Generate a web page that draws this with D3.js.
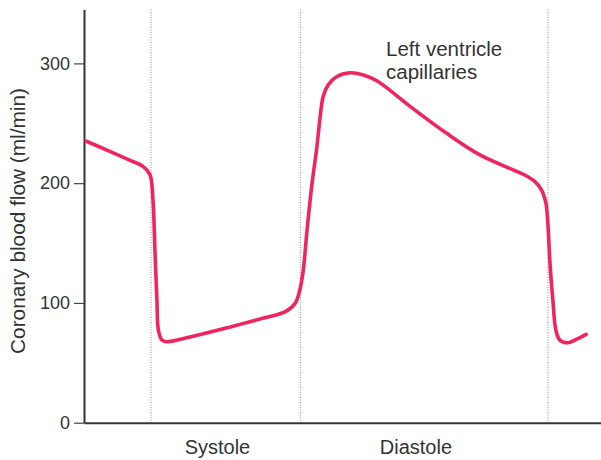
<!DOCTYPE html>
<html>
<head>
<meta charset="utf-8">
<script src="https://cdn.jsdelivr.net/npm/d3@7"></script>
<style>
  html, body { margin: 0; padding: 0; background: #fff; }
  svg { display: block; }
  text { font-family: "Liberation Sans", Arial, Helvetica, sans-serif; fill: #333; }
</style>
</head>
<body>
<svg id="chart" width="601" height="460"></svg>
<script>
// ---- data (time in ms, flow in ml/min) ----
const timeMs = [5, 93, 119, 133, 139, 143, 147, 150, 157, 167, 228, 295, 362, 406, 426, 435, 442, 449, 459, 469, 476, 482, 492, 509, 536, 563, 590, 664, 731, 798, 865, 892, 909, 922, 931, 934, 936, 940, 945, 951, 959, 976, 993, 1012];
const flow   = [235, 219, 214, 207, 186, 144, 102, 77, 69, 67.6, 73, 80, 87.4, 92.7, 100, 110.8, 127.5, 158.4, 197.6, 229, 255.5, 272.2, 282, 288.9, 292.2, 290.3, 285.5, 262, 241.6, 223.6, 211.1, 206, 201.3, 194.4, 183.3, 172, 158.5, 128, 102.5, 77.4, 69, 66.8, 69.7, 73.8];
const phaseBoundaries = [135, 436, 935];
const phaseNames = ["Systole", "Diastole"];
const phaseLabelTimes = [269, 669];
const yTicks = [0, 100, 200, 300];
const yLabel = "Coronary blood flow (ml/min)";
const annotation = ["Left ventricle", "capillaries"];

const svg = d3.select("#chart");
const x = d3.scaleLinear().domain([0, 1042]).range([84, 601]);
const y = d3.scaleLinear().domain([0, 345]).range([422.7, 9.5]);

// dotted phase boundary lines
svg.append("g").selectAll("line").data(phaseBoundaries).join("line")
  .attr("x1", d => x(d)).attr("x2", d => x(d))
  .attr("y1", y(345)).attr("y2", y(0))
  .attr("stroke", "#8f8f8f").attr("stroke-width", 1).attr("stroke-dasharray", "1,1.5");

// y axis
const yAxis = d3.axisLeft(y).tickValues(yTicks).tickSize(10).tickSizeOuter(0).tickPadding(4);
const gy = svg.append("g").attr("transform", `translate(${x(0)},0)`).call(yAxis);
gy.select(".domain").attr("stroke", "#333").attr("stroke-width", 2);
gy.selectAll(".tick line").attr("stroke", "#444").attr("stroke-width", 1.2);
gy.selectAll(".tick text").attr("font-size", 18).attr("fill", "#333")
  .attr("font-family", "Liberation Sans, Arial, sans-serif");

// x axis (no ticks)
const xAxis = d3.axisBottom(x).tickValues([]).tickSizeOuter(0);
const gx = svg.append("g").attr("transform", `translate(0,${y(0)})`).call(xAxis);
gx.select(".domain").attr("stroke", "#333").attr("stroke-width", 2);

// y label
svg.append("text")
  .attr("transform", `translate(25,221) rotate(-90)`)
  .attr("text-anchor", "middle")
  .attr("font-size", 20.8)
  .text(yLabel);

// phase labels
svg.append("g").selectAll("text").data(phaseNames).join("text")
  .attr("x", (d, i) => x(phaseLabelTimes[i]))
  .attr("y", 454)
  .attr("text-anchor", "middle")
  .attr("font-size", 20)
  .text(d => d);

// annotation
svg.append("text")
  .attr("x", 386).attr("y", 56)
  .attr("font-size", 20.5)
  .selectAll("tspan").data(annotation).join("tspan")
  .attr("x", 386).attr("dy", (d, i) => i === 0 ? 0 : 22.5)
  .text(d => d);

// flow curve
const pts = timeMs.map((t, i) => [t, flow[i]]);
const line = d3.line().x(d => x(d[0])).y(d => y(d[1])).curve(d3.curveCatmullRom.alpha(0.5));
svg.append("path").datum(pts)
  .attr("d", line)
  .attr("fill", "none")
  .attr("stroke", "#f0245e")
  .attr("stroke-width", 3.6)
  .attr("stroke-linecap", "round")
  .attr("stroke-linejoin", "round");
</script>
</body>
</html>
